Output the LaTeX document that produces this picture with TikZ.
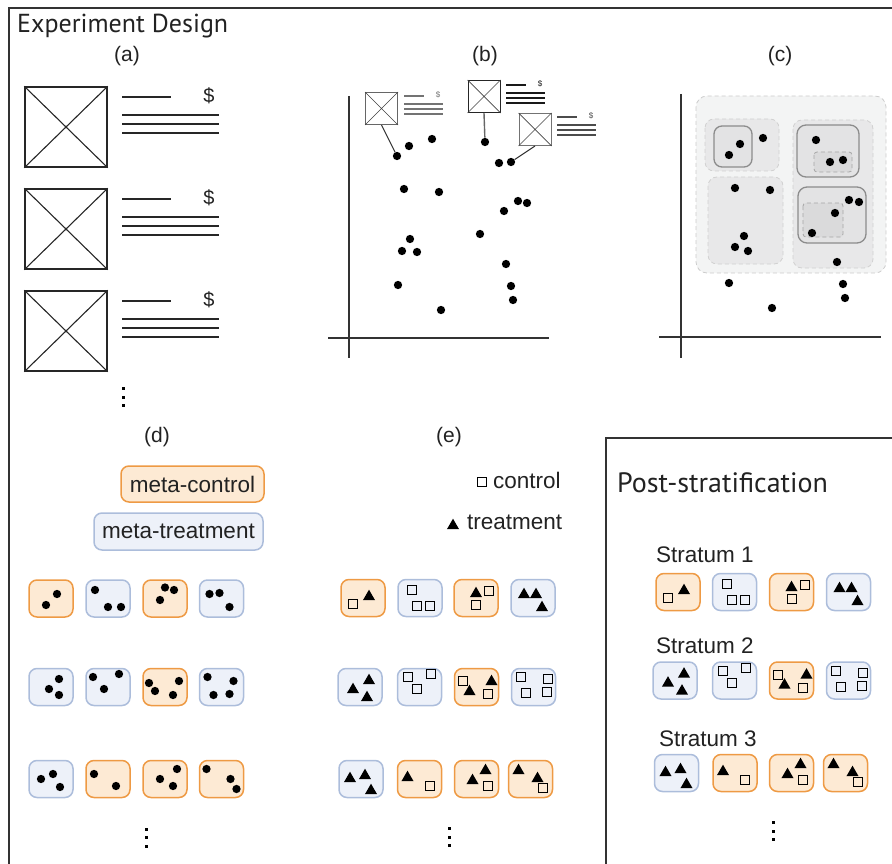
\documentclass[tikz,border=0pt]{standalone}
\usepackage{fontspec}
\setmainfont{Liberation Sans}
\newfontfamily\titlefont{PT Sans}
\usetikzlibrary{shapes.geometric}
\definecolor{orS}{HTML}{EE9A44}
\definecolor{orF}{HTML}{FDEAD4}
\definecolor{blS}{HTML}{ACBDDB}
\definecolor{blF}{HTML}{EDF1F9}
\definecolor{frameC}{HTML}{333333}
\definecolor{txtC}{HTML}{222222}
\definecolor{cgA}{HTML}{F3F4F4}
\definecolor{cgB}{HTML}{E8E8E9}
\definecolor{cgC}{HTML}{E3E3E4}
\definecolor{cgD}{HTML}{DADADB}
\newcommand\dbox[5]{\node[#2] (#1) at (#3,#4) {};
  \foreach \dx/\dy [count=\k] in #5 {\node[dt] (#1p\k) at ([shift={(\dx,\dy)}]#1.center) {};}}
\newcommand\ebox[5]{\node[#2] (#1) at (#3,#4) {};
  \foreach \tp/\dx/\dy [count=\k] in #5 {\node[\tp] (#1p\k) at ([shift={(\dx,\dy)}]#1.center) {};}}
\def\DAA{6/-4.5, -5/6.5}
\def\DAB{-13/-8.5, 0/8.5, 13/8.5}
\def\DAC{0/-11, 9/-8.5, -5/1.5}
\def\DAD{-12/-4.5, -2/-5.5, 8/8.5}
\def\DBA{8/-8, -2/2, 8/8}
\def\DBB{-15/-10, 11/-13, -4/2}
\def\DBC{-16/-4, -10/4, 14/-6, 8/8}
\def\DBD{-14/-10, 12/-6, -8/8, 8/7}
\def\DCA{-10/0, 2/-5, 9/8}
\def\DCB{-14/-5, 8/7}
\def\DCC{12/-10, -5/0, 8/7}
\def\DCD{-15/-10, 9/0, 15/10}
\def\EAA{sq/-10/6, tri/6/-3}
\def\EAB{sq/-8/-8, sq/-3/8, sq/10/8}
\def\EAC{tri/0/-6, sq/13/-7, sq/0/7}
\def\EAD{tri/-9/-5, tri/3/-5, tri/9/8}
\def\EBA{tri/-7/1, tri/9/-8, tri/7/9}
\def\EBB{sq/-12/-10, sq/11/-13, sq/-3/2}
\def\EBC{sq/-14/-6, tri/-7/3, tri/15/-7, sq/11/7}
\def\EBD{sq/-13/-10, sq/14/-8, sq/-8/6, sq/13/5}
\def\ECA{tri/-11/-2, tri/4/-5, tri/10/10}
\def\ECB{tri/-12/-3, sq/10/7}
\def\ECC{tri/9/-10, tri/-4/0, sq/11/7}
\def\ECD{tri/-12/-10, tri/7/-2, sq/12/9}
\begin{document}
\begin{tikzpicture}[x=1pt,y=-1pt,
  frm/.style={line width=1.5pt, draw=frameC},
  axisl/.style={line width=1.5pt, draw=black!80},
  ctl/.style={draw=orS, fill=orF, rounded corners=8pt, line width=1.5pt, minimum width=44pt, minimum height=37pt, inner sep=0pt},
  trt/.style={draw=blS, fill=blF, rounded corners=8pt, line width=1.5pt, minimum width=44pt, minimum height=37pt, inner sep=0pt},
  dt/.style={circle, fill=black, inner sep=0pt, minimum size=8.3pt},
  sq/.style={draw=black, line width=0.9pt, inner sep=0pt, minimum size=9pt},
  tri/.style={regular polygon, regular polygon sides=3, fill=black, inner sep=0pt, minimum size=14pt, yshift=-1.7pt},
  vd/.style={fill=black, inner sep=0pt, minimum size=3pt},
  lbl/.style={font=\fontsize{21}{24}\selectfont, text=txtC, inner sep=0pt},
  txt/.style={font=\fontsize{22.5}{26}\selectfont, text=txtC, inner sep=0pt},
  ttl/.style={font=\titlefont\fontsize{26}{30}\selectfont, text=txtC, inner sep=0pt},
  img/.style={draw=black!85, line width=1.4pt, minimum width=82pt, minimum height=80pt, inner sep=0pt},
  mini/.style={draw=#1, line width=1pt, minimum width=32pt, minimum height=32pt, inner sep=0pt},
  ln/.style={line width=1.4pt, draw=black!85},
  cdash/.style={dashed, dash pattern=on 4pt off 3pt, line width=0.8pt}
]
\useasboundingbox (0,0) rectangle (892,864);
% frames
\draw[frm] (9,864) -- (9,8) -- (892,8);
\draw[frm] (606,864) -- (606,438) -- (892,438);
\node[ttl, anchor=base west] (title1) at (17,33) {Experiment Design};
\node[ttl, font=\titlefont\fontsize{28}{32}\selectfont, anchor=base west] (title2) at (617,492) {Post-stratification};
% panel labels
\node[lbl] (la) at (127,56) {(a)};
\node[lbl] (lb) at (485,56) {(b)};
\node[lbl] (lc) at (780,56) {(c)};
\node[lbl] (ld) at (157,437) {(d)};
\node[lbl] (le) at (449,437) {(e)};
% panel (a)
\foreach \i/\t in {1/87, 2/189, 3/291} {
  \node[img] (a\i) at (66,{\t+40}) {};
  \draw[line width=1.1pt, black!85] (a\i.north west) -- (a\i.south east) (a\i.north east) -- (a\i.south west);
  \draw[ln] (122,{\t+10}) -- (171,{\t+10});
  \draw[ln] (122,{\t+28}) -- (219,{\t+28});
  \draw[ln] (122,{\t+37}) -- (219,{\t+37});
  \draw[ln] (122,{\t+46}) -- (219,{\t+46});
  \node[font=\fontsize{20}{22}\selectfont, text=txtC, inner sep=0pt] (ad\i) at (209,{\t+9}) {\$};
}
\node[vd] (av1) at (123,388) {};
\node[vd] (av2) at (123,397) {};
\node[vd] (av3) at (123,405) {};
% panel (b)
\draw[axisl] (349,96) -- (349,358);
\draw[axisl] (328,338) -- (549,338);
\foreach \x/\y [count=\k] in {397/156, 409/146, 432/139, 485/142, 499/163, 511/162, 404/189, 439/192, 518/201, 527/203, 504/211, 480/234, 410/239, 402/251, 417/252, 506/264, 398/285, 511/286, 513/300, 441/310}
  \node[dt] (bd\k) at (\x,\y) {};
\node[mini=black!60] (b1) at (381.5,108.5) {};
\node[mini=black!85] (b2) at (484,96.5) {};
\node[mini=black!55] (b3) at (535,129.5) {};
\foreach \n/\r/\t/\c in {b1/398/92/black!55, b2/500/81/black!90, b3/551/113/black!70} {
  \draw[line width=0.7pt, black!75] (\n.north west) -- (\n.south east) (\n.north east) -- (\n.south west);
  \draw[line width=1.1pt, \c] ({\r+6},{\t+4}) -- ({\r+26},{\t+4});
  \draw[line width=1.1pt, \c] ({\r+6},{\t+12}) -- ({\r+45},{\t+12});
  \draw[line width=1.1pt, \c] ({\r+6},{\t+17}) -- ({\r+45},{\t+17});
  \draw[line width=1.1pt, \c] ({\r+6},{\t+22}) -- ({\r+45},{\t+22});
  \node[font=\fontsize{8}{9}\selectfont, text=\c, inner sep=0pt] (\n s) at ({\r+40},{\t+3}) {\$};
}
\draw[line width=1pt, black!80] (b1.south) -- (bd1);
\draw[line width=1.4pt, black!60] (b2.south) -- (bd4);
\draw[line width=1pt, black!80] (b3.south) -- (bd6);
% panel (c)
\draw[cdash, draw=black!20, fill=cgA, rounded corners=11pt] (696,96) rectangle (886,273);
\draw[cdash, draw=black!18, fill=cgB, rounded corners=9pt] (705,119) rectangle (779,171);
\draw[cdash, draw=black!18, fill=cgB, rounded corners=9pt] (708,177) rectangle (783,264);
\draw[cdash, draw=black!18, fill=cgB, rounded corners=9pt] (793,120) rectangle (873,268);
\draw[line width=1.3pt, draw=black!45, fill=cgC, rounded corners=8pt] (714,126) rectangle (752,167);
\draw[line width=1.3pt, draw=black!45, fill=cgC, rounded corners=9pt] (797,125) rectangle (859,177);
\draw[line width=1.3pt, draw=black!45, fill=cgC, rounded corners=9pt] (798,187) rectangle (866,243);
\draw[cdash, draw=black!35, fill=cgD, rounded corners=3pt] (814,152) rectangle (852,172);
\draw[cdash, draw=black!35, fill=cgD, rounded corners=3pt] (803,203) rectangle (843,237);
\draw[axisl] (681,94) -- (681,358);
\draw[axisl] (659,337) -- (881,337);
\foreach \x/\y [count=\k] in {740/144, 729/155, 763/138, 816/140, 830/162, 843/160, 735/188, 770/190, 849/200, 859/202, 835/213, 812/233, 744/236, 735/247, 748/251, 837/262, 729/283, 843/284, 845/298, 772/308}
  \node[dt] (cd\k) at (\x,\y) {};
% panel (d)
\node[ctl, txt, minimum width=143pt, minimum height=36pt] (mctl) at (192.5,484) {meta-control};
\node[trt, txt, minimum width=169pt, minimum height=37pt] (mtrt) at (178.5,531.5) {meta-treatment};
\dbox{d11}{ctl}{51}{598.5}{\DAA}
\dbox{d12}{trt}{108}{598.5}{\DAB}
\dbox{d13}{ctl}{165}{598.5}{\DAC}
\dbox{d14}{trt}{221.5}{598.5}{\DAD}
\dbox{d21}{trt}{51}{687}{\DBA}
\dbox{d22}{trt}{108}{687}{\DBB}
\dbox{d23}{ctl}{165}{687}{\DBC}
\dbox{d24}{trt}{221.5}{687}{\DBD}
\dbox{d31}{trt}{51}{779}{\DCA}
\dbox{d32}{ctl}{108}{779}{\DCB}
\dbox{d33}{ctl}{165}{779}{\DCC}
\dbox{d34}{ctl}{221.5}{779}{\DCD}
\node[vd] (dv1) at (146,829) {};
\node[vd] (dv2) at (146,837) {};
\node[vd] (dv3) at (146,846) {};
% panel (e)
\node[sq] (lsq) at (482,482) {};
\node[txt, anchor=west] (lctl) at (493,480) {control};
\node[tri] (ltri) at (453,524) {};
\node[txt, anchor=west] (ltrt) at (467,522) {treatment};
\ebox{e11}{ctl}{363}{598}{\EAA}
\ebox{e12}{trt}{420}{598}{\EAB}
\ebox{e13}{ctl}{476}{598}{\EAC}
\ebox{e14}{trt}{533}{598}{\EAD}
\ebox{e21}{trt}{360}{687}{\EBA}
\ebox{e22}{trt}{419.5}{687}{\EBB}
\ebox{e23}{ctl}{476.5}{687}{\EBC}
\ebox{e24}{trt}{533.5}{687}{\EBD}
\ebox{e31}{trt}{361}{779}{\ECA}
\ebox{e32}{ctl}{419.5}{779}{\ECB}
\ebox{e33}{ctl}{476.5}{779}{\ECC}
\ebox{e34}{ctl}{530.5}{779}{\ECD}
\node[vd] (ev1) at (449,828) {};
\node[vd] (ev2) at (449,837) {};
\node[vd] (ev3) at (449,845) {};
% post-stratification
\node[txt, anchor=west] (s1) at (656,555) {Stratum 1};
\node[txt, anchor=west] (s2) at (656,646) {Stratum 2};
\node[txt, anchor=west] (s3) at (659,739) {Stratum 3};
\ebox{p11}{ctl}{678}{592}{\EAA}
\ebox{p12}{trt}{734.5}{592}{\EAB}
\ebox{p13}{ctl}{791.5}{592}{\EAC}
\ebox{p14}{trt}{848.5}{592}{\EAD}
\ebox{p21}{trt}{675}{680.5}{\EBA}
\ebox{p22}{trt}{734.5}{680.5}{\EBB}
\ebox{p23}{ctl}{791.5}{680.5}{\EBC}
\ebox{p24}{trt}{848.5}{680.5}{\EBD}
\ebox{p31}{trt}{676.5}{773}{\ECA}
\ebox{p32}{ctl}{735}{773}{\ECB}
\ebox{p33}{ctl}{791.5}{773}{\ECC}
\ebox{p34}{ctl}{845.5}{773}{\ECD}
\node[vd] (pv1) at (773,822) {};
\node[vd] (pv2) at (773,831) {};
\node[vd] (pv3) at (773,839) {};
\end{tikzpicture}
\end{document}
